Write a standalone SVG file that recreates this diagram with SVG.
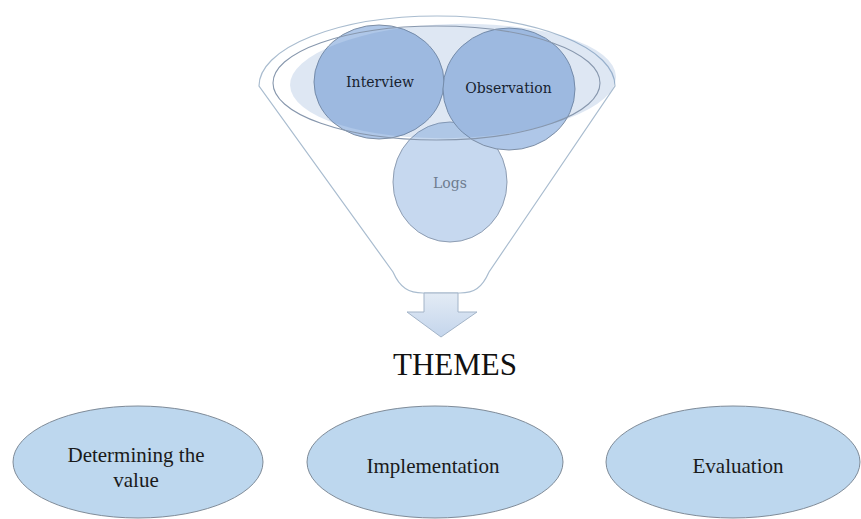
<svg xmlns="http://www.w3.org/2000/svg" width="861" height="519" viewBox="0 0 861 519">
<defs>
<linearGradient id="arrowGrad" x1="0" y1="0" x2="0" y2="1">
<stop offset="0" stop-color="#e3ebf5"/>
<stop offset="1" stop-color="#c4d5ec"/>
</linearGradient>
<style>
.funnel{fill:#ffffff;stroke:#a9bccf;stroke-width:1.2}
.rim{fill:none;stroke:#8797ad;stroke-width:1.1}
.circ{fill:#afc7e8;stroke:#7d8ea5;stroke-width:1}
.logs{fill:#c6d8ef;stroke:#8e9db2;stroke-width:1}
.overlay{fill:#4f7fc0;fill-opacity:0.19}
.ctext{font-family:"DejaVu Serif","Liberation Serif",serif;font-size:14px;fill:#17222f;text-anchor:middle}
.theme{fill:#bdd7ee;stroke:#7f8b98;stroke-width:1}
.ttext{font-family:"Liberation Serif","Times New Roman",serif;font-size:21px;fill:#1a1a1a;text-anchor:middle}
</style>
</defs>
<rect width="861" height="519" fill="#ffffff"/>
<g id="funnel">
<path class="funnel" d="M 259,86 A 178,70 0 0 1 615,86 L 489,272 C 482,288 474,293 460,293 L 423,293 C 409,293 400,288 393,272 Z"/>
</g>
<g id="logs">
<ellipse class="logs" cx="450" cy="182" rx="57" ry="60"/>
</g>
<g id="interview">
<ellipse class="circ" cx="379" cy="82" rx="65" ry="57"/>
</g>
<g id="observation">
<ellipse class="circ" cx="509" cy="89" rx="66" ry="61"/>
</g>
<g id="funnel-top">
<ellipse class="overlay" cx="453" cy="81" rx="163" ry="57" transform="rotate(-1.6 453 81)"/>
<ellipse class="rim" cx="436.5" cy="83" rx="163.5" ry="57"/>
</g>
<g id="labels">
<text class="ctext" x="380" y="87">Interview</text>
<text class="ctext" x="508.5" y="93">Observation</text>
<text class="ctext" x="450" y="188" style="fill:#6e7c8e">Logs</text>
</g>
<g id="connectors">
<path d="M 424,293 L 458,293 L 458,312 L 477,312 L 441,337 L 407,312 L 424,312 Z" fill="url(#arrowGrad)" stroke="#a3b4c8" stroke-width="1"/>
</g>
<g id="themes-title">
<text x="455" y="375" font-family="'Liberation Serif','Times New Roman',serif" font-size="31" fill="#111111" text-anchor="middle">THEMES</text>
</g>
<g id="determining">
<ellipse class="theme" cx="138" cy="462" rx="125" ry="56"/>
<text class="ttext" x="136" y="462">Determining  the</text>
<text class="ttext" x="136" y="487">value</text>
</g>
<g id="implementation">
<ellipse class="theme" cx="435" cy="462" rx="128" ry="56"/>
<text class="ttext" x="433" y="473">Implementation</text>
</g>
<g id="evaluation">
<ellipse class="theme" cx="733" cy="462" rx="127" ry="56"/>
<text class="ttext" x="738" y="473">Evaluation</text>
</g>
</svg>
